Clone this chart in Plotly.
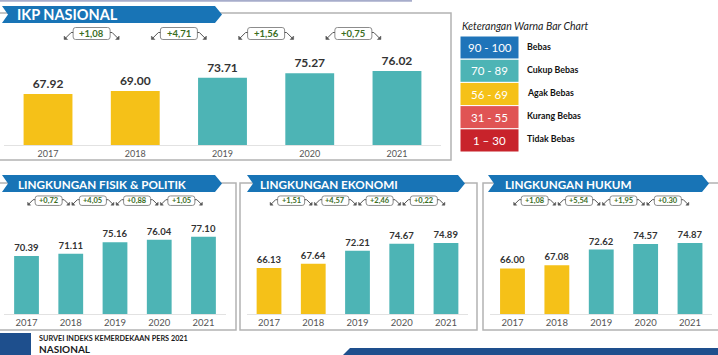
import plotly.graph_objects as go

W, H = 718, 355

# ---------------- data ----------------
years = [2017, 2018, 2019, 2020, 2021]
ikp_nasional = [67.92, 69.00, 73.71, 75.27, 76.02]
fisik_politik = [70.39, 71.11, 75.16, 76.04, 77.10]
ekonomi = [66.13, 67.64, 72.21, 74.67, 74.89]
hukum = [66.00, 67.08, 72.62, 74.57, 74.87]

delta_nasional = ["+1,08", "+4,71", "+1,56", "+0,75"]
delta_fisik = ["+0,72", "+4,05", "+0,88", "+1,05"]
delta_ekonomi = ["+1,51", "+4,57", "+2,46", "+0,22"]
delta_hukum = ["+1,08", "+5,54", "+1,95", "+0.30"]

legend_ranges = ["90 - 100", "70 - 89", "56 - 69", "31 - 55", "1 \u2013 30"]
legend_labels = ["Bebas", "Cukup Bebas", "Agak Bebas", "Kurang Bebas", "Tidak Bebas"]
legend_lows = [90, 70, 56, 31, 1]
legend_colors = ["#1F74B9", "#4DB4B5", "#F5C118", "#E05454", "#C8232B"]

FONT = "Lato"
BLUE = "#1874B6"
GRAY = "#B3B3B3"


def fx(px):
    return px / W


def fy(py):
    return 1 - py / H


def color_for(v):
    for low, c in zip(legend_lows, legend_colors):
        if v >= low:
            return c
    return legend_colors[-1]


fig = go.Figure()
shapes = []
annotations = []

panels = [
    dict(vals=ikp_nasional, deltas=delta_nasional, ax="", xd=(4.4, 440.6), base=145, ppu=2.84,
         vfont=12, yfont=9, dfont=9.5, bw=37, bh=12, dy=33.5),
    dict(vals=fisik_politik, deltas=delta_fisik, ax="2", xd=(4.4, 225.6), base=314, ppu=2.85,
         vfont=9.5, yfont=9.5, dfont=7.5, bw=27, bh=9.5, dy=200.7),
    dict(vals=ekonomi, deltas=delta_ekonomi, ax="3", xd=(246.9, 468.1), base=314, ppu=2.85,
         vfont=9.5, yfont=9.5, dfont=7.5, bw=27, bh=9.5, dy=200.7),
    dict(vals=hukum, deltas=delta_hukum, ax="4", xd=(490.3, 712.2), base=314, ppu=2.85,
         vfont=9.5, yfont=9.5, dfont=7.5, bw=27, bh=9.5, dy=200.7),
]

YMIN, YMAX = 50, 85
layout_axes = {}
for p in panels:
    sx = p["ax"]
    fig.add_trace(go.Bar(
        x=years, y=p["vals"],
        marker=dict(color=[color_for(v) for v in p["vals"]], line=dict(width=0)),
        text=[f"{v:.2f}" for v in p["vals"]],
        textposition="outside",
        constraintext="none",
        cliponaxis=False,
        textfont=dict(family=FONT, size=p["vfont"], color="#333333", weight="bold"),
        xaxis="x" + sx, yaxis="y" + sx,
        showlegend=False, hoverinfo="skip",
    ))
    top_px = p["base"] - (YMAX - YMIN) * p["ppu"]
    layout_axes["xaxis" + sx] = dict(
        domain=[fx(p["xd"][0]), fx(p["xd"][1])], range=[years[0] - 0.5, years[-1] + 0.5],
        anchor="y" + sx, tickvals=years, ticks="", showgrid=False, zeroline=False,
        showline=True, linecolor="#E2E2E2", linewidth=1,
        tickfont=dict(family=FONT, size=p["yfont"], color="#555555"), fixedrange=True,
    )
    layout_axes["yaxis" + sx] = dict(
        domain=[fy(p["base"]), fy(top_px)], range=[YMIN, YMAX], anchor="x" + sx,
        visible=False, showgrid=False, fixedrange=True,
    )
    # delta boxes between bars, with small arrow connectors
    big = sx == ""
    for i, d in enumerate(p["deltas"]):
        xm = years[i] + 0.5
        hw = p["bw"] / 2
        hh = p["bh"] / 2
        r = 2.5
        box = (f"M {-hw + r},{hh} L {hw - r},{hh} Q {hw},{hh} {hw},{hh - r} "
               f"L {hw},{-hh + r} Q {hw},{-hh} {hw - r},{-hh} L {-hw + r},{-hh} "
               f"Q {-hw},{-hh} {-hw},{-hh + r} L {-hw},{hh - r} Q {-hw},{hh} {-hw + r},{hh} Z")
        shapes.append(dict(type="path", xref="x" + sx, yref="paper",
                           xsizemode="pixel", ysizemode="pixel",
                           xanchor=xm, yanchor=fy(p["dy"]), path=box,
                           fillcolor="white", line=dict(color="#8C8C8C", width=1)))
        annotations.append(dict(
            x=xm, xref="x" + sx, y=fy(p["dy"]), yref="paper", text=f"<b>{d}</b>",
            showarrow=False, font=dict(family=FONT, size=p["dfont"], color="#3B6E1E"),
            xanchor="center", yanchor="middle",
        ))
        s = 6 if big else 4.5
        a = 3 if big else 2.5
        for side in (-1, 1):
            e = side * hw
            line_path = (f"M {e},1 L {e + side * 2},1 L {e + side * (2 + s)},{1 - s}")
            shapes.append(dict(type="path", xref="x" + sx, yref="paper",
                               xsizemode="pixel", ysizemode="pixel",
                               xanchor=xm, yanchor=fy(p["dy"]), path=line_path,
                               line=dict(color="#555555", width=1)))
            tx, ty = e + side * (2 + s + 1), 1 - s - 1
            tri = (f"M {tx},{ty} L {tx - side * (a + 0.5)},{ty} L {tx},{ty + a + 0.5} Z")
            shapes.append(dict(type="path", xref="x" + sx, yref="paper",
                               xsizemode="pixel", ysizemode="pixel",
                               xanchor=xm, yanchor=fy(p["dy"]), path=tri,
                               fillcolor="#555555", line=dict(color="#555555", width=0.5)))


def rect(x0, y0, x1, y1, **kw):
    shapes.append(dict(type="rect", xref="paper", yref="paper",
                       x0=fx(x0), x1=fx(x1), y0=fy(y1), y1=fy(y0), **kw))


def poly(points, color):
    d = "M " + " L ".join(f"{fx(a):.5f},{fy(b):.5f}" for a, b in points) + " Z"
    shapes.append(dict(type="path", xref="paper", yref="paper", path=d,
                       fillcolor=color, line=dict(width=0)))


# top thin line
shapes.append(dict(type="line", xref="paper", yref="paper", x0=0, x1=fx(412), y0=fy(0.8), y1=fy(0.8),
                   line=dict(color="#A7ADCB", width=2)))
# panel frames
rect(-2, 13, 451, 160, line=dict(color=GRAY, width=1.5), fillcolor="rgba(0,0,0,0)")
rect(-2, 183, 236, 330, line=dict(color=GRAY, width=1.5), fillcolor="rgba(0,0,0,0)")
rect(240, 183, 477, 330, line=dict(color=GRAY, width=1.5), fillcolor="rgba(0,0,0,0)")
rect(483, 183, 725, 330, line=dict(color=GRAY, width=1.5), fillcolor="rgba(0,0,0,0)")


def banner(x0, x1, y0, y1):
    ym = (y0 + y1) / 2
    poly([(x0, y0), (x1 - 7, y0), (x1, ym), (x1 - 7, y1), (x0, y1), (x0 + 6, ym)], BLUE)


banner(2, 222, 6, 23)
banner(2, 222, 175, 192)
banner(247, 465, 175, 192)
banner(488, 709, 175, 192)

banner_titles = [("IKP NASIONAL", 15, 14.8, 14.5), ("LINGKUNGAN FISIK & POLITIK", 16, 183.8, 11.7),
                 ("LINGKUNGAN EKONOMI", 258, 183.8, 11.7), ("LINGKUNGAN HUKUM", 503, 183.8, 11.7)]
for t, xp, yp, fs in banner_titles:
    annotations.append(dict(x=fx(xp), y=fy(yp), xref="paper", yref="paper", text=f"<b>{t}</b>",
                            showarrow=False, xanchor="left", yanchor="middle",
                            font=dict(family=FONT, size=fs, color="white")))

# legend
annotations.append(dict(x=fx(460), y=fy(26), xref="paper", yref="paper",
                        text="<i>Keterangan Warna Bar Chart</i>", showarrow=False,
                        xanchor="left", yanchor="middle",
                        font=dict(family=FONT, size=10.5, color="#222222")))
row_h = 23.2
for i, (rng, lab, col) in enumerate(zip(legend_ranges, legend_labels, legend_colors)):
    y0 = 36 + i * row_h
    rect(460, y0, 519, y0 + row_h, fillcolor=col, line=dict(color="white", width=1))
    annotations.append(dict(x=fx(489.5), y=fy(y0 + row_h / 2), xref="paper", yref="paper",
                            text=rng, showarrow=False, xanchor="center", yanchor="middle",
                            font=dict(family=FONT, size=11.5, color="white")))
    annotations.append(dict(x=fx(525), y=fy(y0 + row_h / 2 - 1.5), xref="paper", yref="paper",
                            text=f"<b>{lab}</b>", showarrow=False, xanchor="left", yanchor="middle",
                            font=dict(family=FONT, size=8.8, color="#111111")))

# footer
rect(0, 333, 31, 356, fillcolor="#1E4F8D", line=dict(width=0))
poly([(342, 356), (350, 348), (720, 348), (720, 356)], "#1E4F8D")
annotations.append(dict(x=fx(37), y=fy(338), xref="paper", yref="paper",
                        text="<b>SURVEI INDEKS KEMERDEKAAN PERS 2021</b>", showarrow=False,
                        xanchor="left", yanchor="middle",
                        font=dict(family=FONT, size=7.3, color="#1a1a1a")))
annotations.append(dict(x=fx(37), y=fy(348.5), xref="paper", yref="paper",
                        text="<b>NASIONAL</b>", showarrow=False, xanchor="left", yanchor="middle",
                        font=dict(family=FONT, size=10, color="#1a1a1a")))

fig.update_layout(
    width=W, height=H, margin=dict(l=0, r=0, t=0, b=0),
    paper_bgcolor="white", plot_bgcolor="rgba(0,0,0,0)",
    bargap=0.44, shapes=shapes, annotations=annotations, showlegend=False,
    font=dict(family=FONT),
    **layout_axes,
)

fig.write_html("out.html", config={"displayModeBar": False},
               post_script="document.body.style.margin='0';document.body.style.overflow='hidden';")
